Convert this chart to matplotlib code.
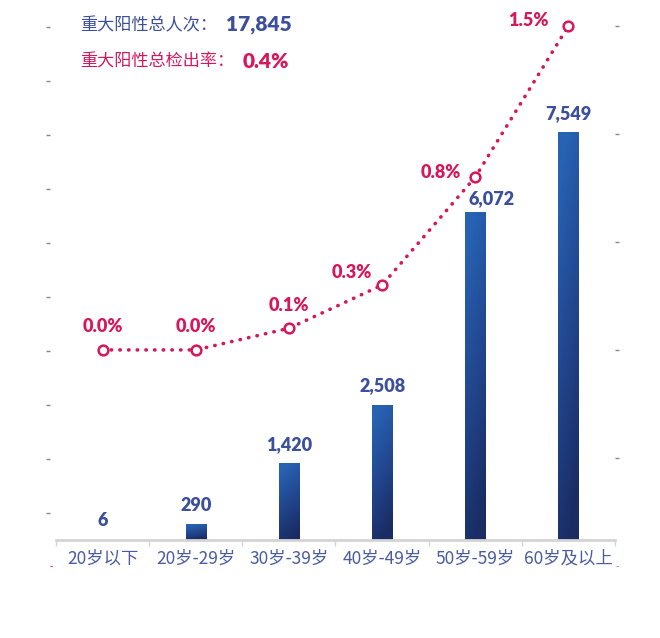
import numpy as np
import matplotlib.pyplot as plt
from matplotlib.colors import LinearSegmentedColormap

plt.rcParams['font.family'] = ['Noto Sans CJK SC', 'DejaVu Sans']

# data
age_groups = ['20岁以下', '20岁-29岁', '30岁-39岁', '40岁-49岁', '50岁-59岁', '60岁及以上']
positive_counts = [6, 290, 1420, 2508, 6072, 7549]
detect_rates = [0.0, 0.0, 0.1, 0.3, 0.8, 1.5]
total_label = '重大阳性总人次：'
total_value = '17,845'
rate_label = '重大阳性总检出率：'
rate_value = '0.4%'

BLUE = '#3b4f9b'
RED = '#d6175c'
NUM_FONT = ['Lato', 'DejaVu Sans']

W, H = 660, 638
fig = plt.figure(figsize=(W / 100, H / 100), dpi=100)

# axes: x from 56 to 615 px, y=0 at 540 px, top at 0 px
ax = fig.add_axes([56 / W, (H - 540) / H, (615 - 56) / W, 540 / H])
x = np.arange(len(age_groups))

bars = ax.bar(x, positive_counts, width=0.215, color='none', zorder=2)

# gradient fill for each bar
cmap = LinearSegmentedColormap.from_list('bar', ['#1a2c63', '#22468e', '#2762b3'])
grad = np.linspace(0, 1, 256).reshape(-1, 1) + np.linspace(0.12, -0.12, 16).reshape(1, -1)
grad = np.clip(grad, 0, 1)
for b in bars:
    x0, y0 = b.get_x(), b.get_y()
    w, h = b.get_width(), b.get_height()
    if h <= 0:
        continue
    im = ax.imshow(grad, cmap=cmap, origin='lower', aspect='auto',
                   extent=[x0, x0 + w, y0, y0 + h], zorder=2, vmin=0, vmax=1)
    im.set_clip_path(b)

ax.set_xlim(-0.5, len(age_groups) - 0.5)
ax.set_ylim(0, 10000)

# bar value labels
bar_offsets = [(0, 19), (0, 19), (0, 19), (0, 19), (16, 14), (0, 19)]
for xi, v, (dx, dy) in zip(x, positive_counts, bar_offsets):
    ax.annotate(f'{v:,}', (xi, v), xytext=(dx * 0.72, dy * 0.72), textcoords='offset points',
                ha='center', va='center', fontsize=13, fontweight='heavy', color=BLUE,
                family=NUM_FONT, zorder=5)

# axis styling
for s in ['top', 'right', 'left']:
    ax.spines[s].set_visible(False)
ax.spines['bottom'].set_color('#d4d4d4')
ax.spines['bottom'].set_linewidth(2)
ax.set_xticks(np.arange(-0.5, len(age_groups), 1), minor=False)
ax.set_xticklabels([])
ax.set_xticks(x, minor=True)
ax.set_xticklabels(age_groups, minor=True, fontsize=12.5, color='#4a5ba0')
ax.tick_params(axis='x', which='major', length=4, width=1, color='#d4d4d4')
ax.tick_params(axis='x', which='minor', length=0, pad=7)
ax.set_yticks(np.arange(500, 10000, 1000))
ax.set_yticklabels([])
ax.spines['left'].set_position(('outward', 4))
ax.tick_params(axis='y', length=3, width=1, color='#888888')
ax.patch.set_visible(False)

# rate line on twin axis
ax2 = ax.twinx()
ax2.set_ylim(-0.88, 1.62)
ax2.plot(x, detect_rates, linestyle=(0, (0.1, 2.3)), linewidth=2.6, color=RED,
         dash_capstyle='round', marker='o', markersize=7, markerfacecolor='white',
         markeredgecolor=RED, markeredgewidth=1.8, zorder=4, clip_on=False)
rate_offsets = [(0, 23), (0, 23), (0, 23), (-30, 13), (-34, 5), (-40, 5)]
for xi, r, (dx, dy) in zip(x, detect_rates, rate_offsets):
    ax2.annotate(f'{r:.1f}%', (xi, r), xytext=(dx * 0.72, dy * 0.72), textcoords='offset points',
                 ha='center', va='center', fontsize=13, fontweight='heavy', color=RED,
                 family=NUM_FONT)
for s in ['top', 'left', 'bottom', 'right']:
    ax2.spines[s].set_visible(False)
ax2.set_yticks([-0.5, 0, 0.5, 1.0, 1.5])
ax2.set_yticklabels([])
ax2.tick_params(axis='y', length=3, width=1, color='#888888')

# small stray marks near the x labels
fig.text(51 / W, 1 - 567 / H, '-', color=RED, fontsize=7, ha='center', va='center')
fig.text(617 / W, 1 - 567 / H, '-', color='#888888', fontsize=7, ha='center', va='center')

# summary text
fig.text(80 / W, 1 - 25 / H, total_label, color=BLUE, fontsize=12.3, fontweight='medium',
         ha='left', va='center')
fig.text(226 / W, 1 - 25 / H, total_value, color=BLUE, fontsize=15, fontweight='heavy',
         family=NUM_FONT, ha='left', va='center')
fig.text(80 / W, 1 - 62 / H, rate_label, color=RED, fontsize=12.3, fontweight='medium',
         ha='left', va='center')
fig.text(243 / W, 1 - 62 / H, rate_value, color=RED, fontsize=15, fontweight='heavy',
         family=NUM_FONT, ha='left', va='center')

fig.savefig('out.png', dpi=100)
